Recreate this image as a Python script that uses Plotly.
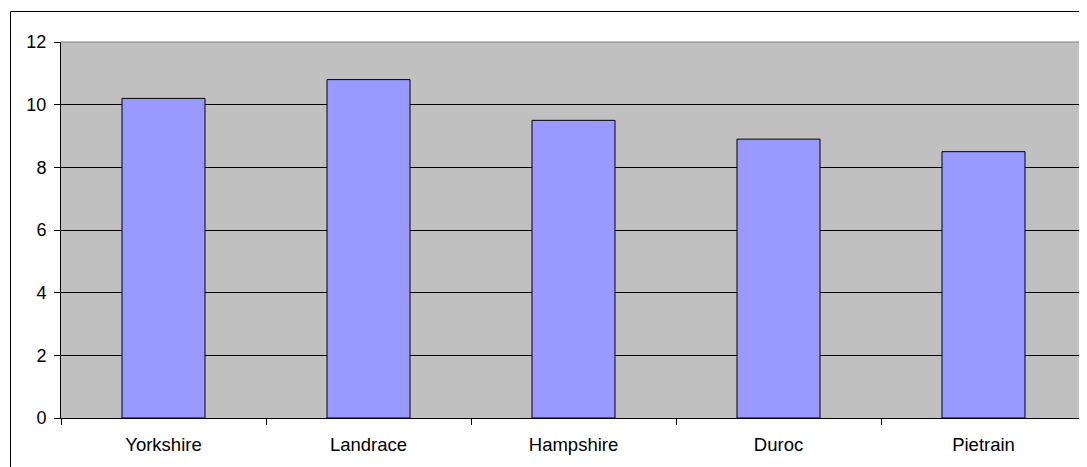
import plotly.graph_objects as go

breeds = ["Yorkshire", "Landrace", "Hampshire", "Duroc", "Pietrain"]
values = [10.2, 10.8, 9.5, 8.9, 8.5]
y_ticks = [0, 2, 4, 6, 8, 10, 12]

OFF = 8  # page body margin
W, H = 1087 - OFF, 467 - OFF
L, R, T, B = 61 - OFF, 1, 42 - OFF, 49
pw = W - L - R
ph = H - T - B

def px_x(p):  # page pixel -> paper
    return (p - OFF - L) / pw

def px_y(p):
    return (H - B - (p - OFF)) / ph

fig = go.Figure()
fig.add_trace(go.Bar(
    x=breeds, y=values,
    marker=dict(color="#9999FF", line=dict(color="black", width=1)),
))

fig.update_layout(
    width=W, height=H,
    margin=dict(l=L, r=R, t=T, b=B, pad=0),
    paper_bgcolor="white",
    plot_bgcolor="#C0C0C0",
    bargap=0.595,
    showlegend=False,
    font=dict(family="Liberation Sans, Arial, sans-serif", size=18.5, color="black"),
    xaxis=dict(
        type="category",
        tickson="boundaries",
        ticks="outside", ticklen=6, tickcolor="black", tickwidth=1,
        showline=True, linecolor="black", linewidth=1,
        showgrid=False,
        ticklabelstandoff=10,
    ),
    yaxis=dict(
        range=[0, 12],
        tickvals=y_ticks,
        ticks="outside", ticklen=6, tickcolor="black", tickwidth=1,
        showline=True, linecolor="black", linewidth=1,
        showgrid=True, gridcolor="black", gridwidth=1,
        zeroline=False,
        ticklabelstandoff=4,
        tickfont=dict(size=18),
    ),
    shapes=[
        dict(type="line", xref="paper", yref="paper", x0=0, x1=1, y0=1, y1=1,
             line=dict(color="#808080", width=1), layer="above"),
        dict(type="line", xref="paper", yref="paper", x0=1, x1=1, y0=0, y1=1,
             line=dict(color="#808080", width=1), layer="above"),
        dict(type="rect", xref="paper", yref="paper",
             x0=px_x(10.5), x1=px_x(1200), y0=px_y(11.5), y1=px_y(600),
             line=dict(color="black", width=1), fillcolor="rgba(0,0,0,0)", layer="above"),
    ],
)

fig.write_html("out.html")
